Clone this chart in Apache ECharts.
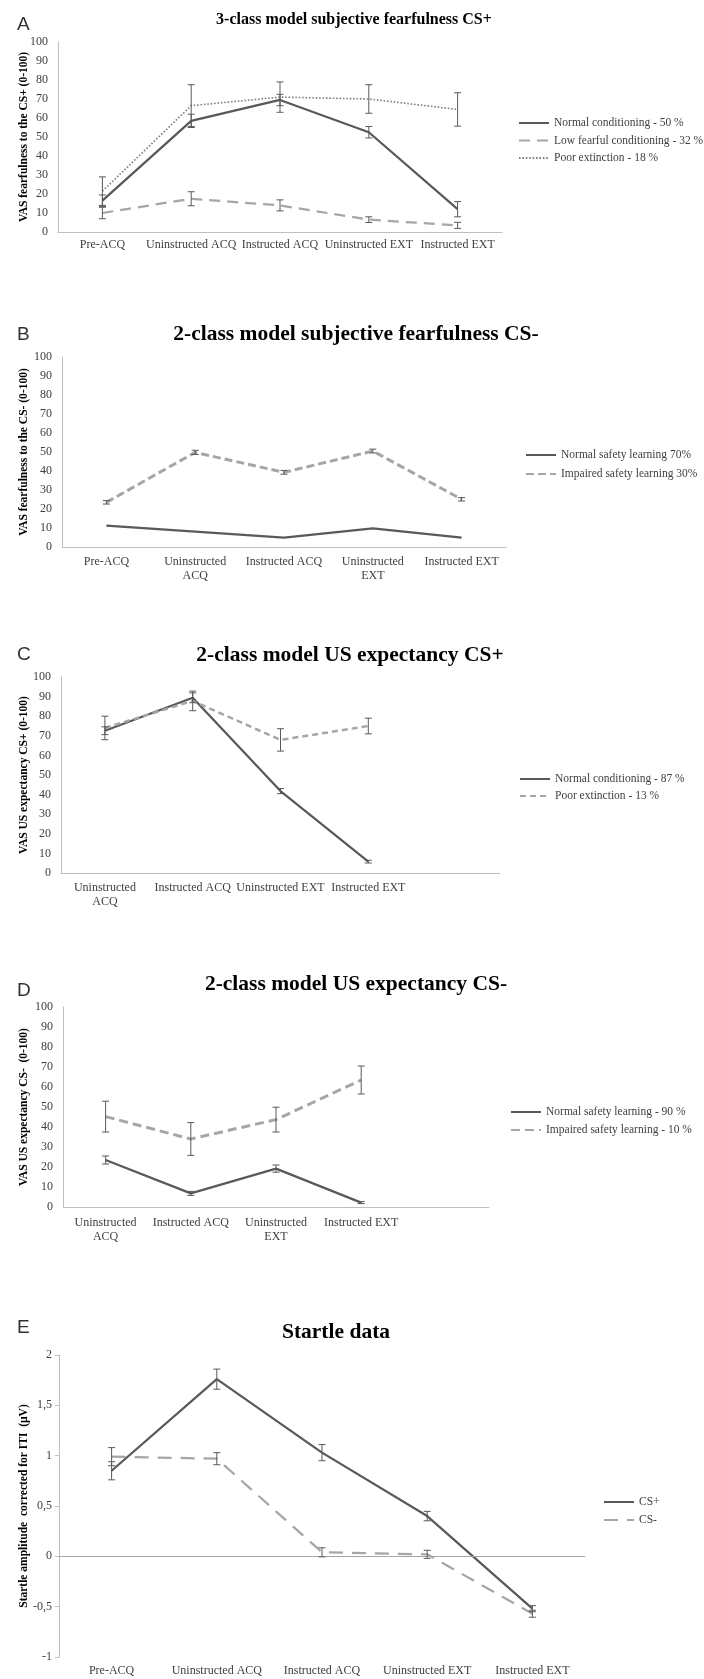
<!DOCTYPE html>
<html>
<head>
<meta charset="utf-8">
<script src="https://cdn.jsdelivr.net/npm/echarts@6/dist/echarts.min.js"></script>
<style>
html,body{margin:0;padding:0;background:#fff;}
#chart{width:704px;height:1679px;}
</style>
</head>
<body>
<div id="chart"></div>
<script>
// ---------- DATA ----------
// Panel A
const catsA = ['Pre-ACQ','Uninstructed ACQ','Instructed ACQ','Uninstructed EXT','Instructed EXT'];
const namesA = ['Normal conditioning - 50 %','Low fearful conditioning - 32 %','Poor extinction - 18 %'];
const normalA = [16.5, 58.5, 69.5, 52.5, 12];
const normalAErr = [3, 3.5, 3, 3, 4];
const lowA = [10, 17.5, 14, 6.5, 3.5];
const lowAErr = [3, 3.7, 2.9, 1.5, 1.6];
const poorA = [21.5, 66.5, 71, 70, 64.5];
const poorAErr = [7.5, 11, 8, 7.5, 8.8];
// Panel B
const catsB = ['Pre-ACQ','Uninstructed\nACQ','Instructed ACQ','Uninstructed\nEXT','Instructed EXT'];
const namesB = ['Normal safety learning 70%','Impaired safety learning 30%'];
const normalB = [11.2, 8.1, 4.9, 9.8, 4.9];
const impairedB = [23.5, 49.8, 39.3, 50.5, 25.1];
const impairedBErr = [0.9, 1.1, 1, 1, 0.9];
// Panel C
const catsC = ['Uninstructed\nACQ','Instructed ACQ','Uninstructed EXT','Instructed EXT',''];
const namesC = ['Normal conditioning - 87 %','Poor extinction - 13 %'];
const normalC = [72.6, 89.4, 41.8, 5.8];
const normalCErr = [2, 2.5, 1.3, 0.7];
const poorC = [74, 87.8, 67.9, 75];
const poorCErr = [6, 5, 5.7, 4];
// Panel D
const catsD = ['Uninstructed\nACQ','Instructed ACQ','Uninstructed\nEXT','Instructed EXT',''];
const namesD = ['Normal safety learning - 90 %','Impaired safety learning - 10 %'];
const normalD = [23.5, 6.8, 19.2, 2.2];
const normalDErr = [2, 1, 1.8, 0.5];
const impairedD = [45.2, 34, 43.7, 63.5];
const impairedDErr = [7.7, 8.2, 6.2, 7];
// Panel E
const catsE = ['Pre-ACQ','Uninstructed ACQ','Instructed ACQ','Uninstructed EXT','Instructed EXT'];
const namesE = ['CS+','CS-'];
const csPlus = [0.85, 1.76, 1.03, 0.40, -0.52];
const csPlusErr = [0.09, 0.10, 0.08, 0.047, 0.03];
const csMinus = [0.99, 0.97, 0.04, 0.02, -0.57];
const csMinusErr = [0.09, 0.06, 0.045, 0.04, 0.035];

const titles = ['3-class model subjective fearfulness CS+','2-class model subjective fearfulness CS-','2-class model US expectancy CS+','2-class model US expectancy CS-','Startle data'];
const letters = ['A','B','C','D','E'];
const yNames = ['VAS fearfulness to the CS+ (0-100)','VAS fearfulness to the CS- (0-100)','VAS US expectancy CS+ (0-100)','VAS US expectancy CS-  (0-100)','Startle amplitude  corrected for ITI  (µV)'];

// ---------- STYLE ----------
const SERIF = '"Liberation Serif","Times New Roman",serif';
const SANS = '"Liberation Sans",Arial,sans-serif';
const DARK = '#595959', LIGHT = '#a6a6a6', DOT = '#7f7f7f', AXIS = '#bfbfbf', TXT = '#404040';

const grids = [
  {left:58, top:42, width:444, height:190},
  {left:62, top:357, width:444, height:190},
  {left:61, top:677, width:439, height:196},
  {left:63, top:1007, width:426, height:200},
  {left:59, top:1355, width:526, height:302}
];
const titleCfg = [
  {x:354, top:12, size:16},
  {x:356, top:323.5, size:21.5},
  {x:350, top:644, size:21.5},
  {x:356, top:973, size:21.5},
  {x:336, top:1321.5, size:21.5}
];
const letterTops = [15, 325.5, 645.5, 981, 1318];
const legendCfg = [
  {left:518, top:117, gap:5.5},
  {left:525, top:449, gap:7},
  {left:519, top:773, gap:5},
  {left:510, top:1106, gap:6},
  {left:603, top:1496, gap:6}
];
const labelMargins = [6, 8, 8, 9, 7];
const nameGaps = [28, 32, 31, 33, 29];
const cats = [catsA, catsB, catsC, catsD, catsE];

function errSeries(idx, means, errs) {
  return {
    type:'custom', xAxisIndex:idx, yAxisIndex:idx, silent:true, z:5,
    encode:{x:0, y:[1,2]},
    data: means.map((m,i)=>[i, m-errs[i], m+errs[i]]),
    renderItem:(params, api)=>{
      const x = api.value(0);
      const top = api.coord([x, api.value(2)]);
      const bot = api.coord([x, api.value(1)]);
      const h = 3.5;
      const style = {stroke:DARK, lineWidth:1, fill:null};
      return {type:'group', children:[
        {type:'line', shape:{x1:top[0], y1:top[1], x2:bot[0], y2:bot[1]}, style},
        {type:'line', shape:{x1:top[0]-h, y1:top[1], x2:top[0]+h, y2:top[1]}, style},
        {type:'line', shape:{x1:bot[0]-h, y1:bot[1], x2:bot[0]+h, y2:bot[1]}, style}
      ]};
    }
  };
}
function lineSeries(idx, name, data, color, width, type, extra) {
  return Object.assign({
    type:'line', name, xAxisIndex:idx, yAxisIndex:idx, data,
    symbol:'none', showSymbol:false, silent:true, z:3,
    lineStyle:{color, width, type},
    itemStyle:{color}
  }, extra||{});
}

const option = {
  animation:false,
  backgroundColor:'#fff',
  title: titles.map((t,i)=>({
    text:t, left:titleCfg[i].x, top:titleCfg[i].top, textAlign:'center', padding:0,
    textStyle:{fontFamily:SERIF, fontWeight:'bold', fontSize:titleCfg[i].size, color:'#000'}
  })).concat(letters.map((l,i)=>({
    text:l, left:17, top:letterTops[i], padding:0,
    textStyle:{fontFamily:SANS, fontWeight:'normal', fontSize:19, color:'#333'}
  }))),
  grid: grids,
  legend: [namesA, namesB, namesC, namesD, namesE].map((names,i)=>({
    data:names, orient:'vertical', left:legendCfg[i].left, top:legendCfg[i].top,
    padding:0, itemWidth:30, itemHeight:14, itemGap:legendCfg[i].gap, selectedMode:false,
    itemStyle:{opacity:0, borderWidth:0},
    textStyle:{fontFamily:SERIF, fontSize:11.5, color:TXT}
  })),
  xAxis: cats.map((c,i)=>({
    type:'category', gridIndex:i, data:c, boundaryGap:true,
    axisLine:{show:i!==4, onZero:false, lineStyle:{color:AXIS}},
    axisTick:{show:false},
    axisLabel:{interval:0, margin:labelMargins[i], fontFamily:SERIF, fontSize:12, color:TXT, lineHeight:14},
    splitLine:{show:false}
  })),
  yAxis: [0,1,2,3,4].map(i=>{
    const isE = i===4;
    return {
      type:'value', gridIndex:i,
      min: isE ? -1 : 0, max: isE ? 2 : 100, interval: isE ? 0.5 : 10,
      name: yNames[i], nameLocation:'middle', nameGap: nameGaps[i], nameMoveOverlap:false,
      nameTextStyle:{fontFamily:SERIF, fontWeight:'bold', fontSize:11.5, color:'#000'},
      axisLine:{show:true, lineStyle:{color:AXIS}},
      axisTick:{show:isE, length:4, lineStyle:{color:AXIS}},
      axisLabel:{margin: isE ? 7 : 10, fontFamily:SERIF, fontSize:12, color:TXT,
        formatter: v => String(v).replace('.', ',')},
      splitLine:{show:false}
    };
  }),
  series: [
    // A
    lineSeries(0, namesA[0], normalA, DARK, 2.25, 'solid'),
    lineSeries(0, namesA[1], lowA, LIGHT, 2.25, [11,7]),
    lineSeries(0, namesA[2], poorA, DOT, 1.6, [1.6,1.8]),
    errSeries(0, normalA, normalAErr),
    errSeries(0, lowA, lowAErr),
    errSeries(0, poorA, poorAErr),
    // B
    lineSeries(1, namesB[0], normalB, DARK, 2.25, 'solid'),
    lineSeries(1, namesB[1], impairedB, LIGHT, 3, [8,4]),
    errSeries(1, impairedB, impairedBErr),
    // C
    lineSeries(2, namesC[0], normalC, DARK, 2.25, 'solid'),
    lineSeries(2, namesC[1], poorC, LIGHT, 2.5, [6,4]),
    errSeries(2, normalC, normalCErr),
    errSeries(2, poorC, poorCErr),
    // D
    lineSeries(3, namesD[0], normalD, DARK, 2.25, 'solid'),
    lineSeries(3, namesD[1], impairedD, LIGHT, 3, [9,5]),
    errSeries(3, normalD, normalDErr),
    errSeries(3, impairedD, impairedDErr),
    // E
    lineSeries(4, namesE[0], csPlus, DARK, 2.25, 'solid', {
      markLine:{silent:true, symbol:['none','none'], label:{show:false},
        lineStyle:{color:LIGHT, width:1, type:'solid'}, data:[{yAxis:0}]}
    }),
    lineSeries(4, namesE[1], csMinus, LIGHT, 2.25, [14,9]),
    errSeries(4, csPlus, csPlusErr),
    errSeries(4, csMinus, csMinusErr)
  ]
};
const chart = echarts.init(document.getElementById('chart'), null, {renderer:'canvas'});
chart.setOption(option);
</script>
</body>
</html>
